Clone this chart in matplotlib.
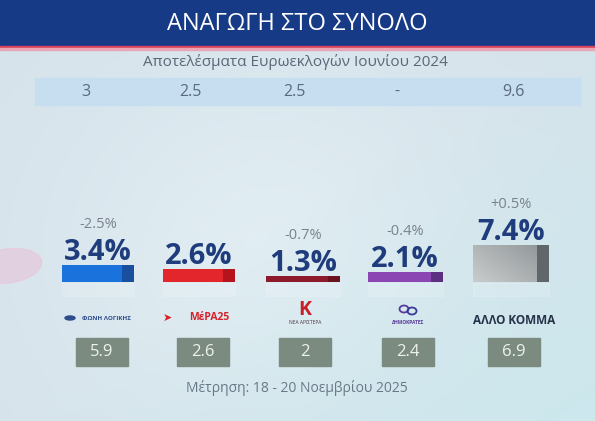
import numpy as np
import matplotlib.pyplot as plt
from matplotlib.patches import Rectangle, Ellipse
from matplotlib.colors import LinearSegmentedColormap

plt.rcParams['font.family'] = ['Open Sans', 'DejaVu Sans']

# data
parties = ['ΦΩΝΗ ΛΟΓΙΚΗΣ', 'ΜέΡΑ25', 'ΝΕΑ ΑΡΙΣΤΕΡΑ', 'ΔΗΜΟΚΡΑΤΕΣ', 'ΑΛΛΟ ΚΟΜΜΑ']
euro2024 = ['3', '2.5', '2.5', '-', '9.6']
current = [3.4, 2.6, 1.3, 2.1, 7.4]
change = ['-2.5%', '', '-0.7%', '-0.4%', '+0.5%']
previous = ['5.9', '2.6', '2', '2.4', '6.9']

title = 'ΑΝΑΓΩΓΗ ΣΤΟ ΣΥΝΟΛΟ'
subtitle = 'Αποτελέσματα Ευρωεκλογών Ιουνίου 2024'
footer = 'Μέτρηση: 18 - 20 Νοεμβρίου 2025'

bar_colors = ['#1a72dc', '#e3262c', '#8e1b2c', '#8c46b4', '#a9adb0']
cap_colors = ['#1a4f9e', '#b5141c', '#6a1220', '#5c2f80', '#5f676b']
logo_colors = ['#2c4c8c', '#d8202a', '#c81e28', '#5a3a9a', '#26324a']

W, H = 595, 421
fig = plt.figure(figsize=(W / 100, H / 100), dpi=100)
ax = fig.add_axes([0, 0, 1, 1])
ax.set_xlim(0, W)
ax.set_ylim(H, 0)
ax.axis('off')

# background
yy, xx = np.mgrid[0:1:200j, 0:1:300j]
base = np.array([0.84, 0.89, 0.92])
light = np.array([0.88, 0.93, 0.95])
cyan = np.array([0.80, 0.91, 0.93])
d = np.exp(-((xx - 0.45) ** 2 / 0.12 + (yy - 0.6) ** 2 / 0.2))
c = np.clip((xx + yy - 1.0), 0, 1)[..., None]
img = base * (1 - d[..., None]) + light * d[..., None]
img = img * (1 - c) + cyan * c
ax.imshow(img, extent=[0, W, H, 0], aspect='auto', zorder=0)

# pink blob on the left
ax.add_patch(Ellipse((8, 266), 68, 34, angle=-8, color='#e6c8dc', alpha=0.7, zorder=1))

# header band
ax.add_patch(Rectangle((0, 0), W, 46, color='#173a86', zorder=2))
ax.add_patch(Rectangle((0, 46), W, 2, color='#d8415a', zorder=2))
ax.add_patch(Rectangle((0, 48), W, 1.5, color='#e9a6b6', zorder=2))
ax.text(297, 24, title, color='white', fontsize=17, ha='center', va='center', zorder=3)

ax.text(295, 62, subtitle, color='#5b6678', fontsize=11, ha='center', va='center', zorder=3)
ax.add_patch(Rectangle((35, 78), 545, 27, color='#c6def0', zorder=2))
band_x = [86, 190, 294, 397, 513]
for x, v in zip(band_x, euro2024):
    ax.text(x, 92, v, color='#5a6a80', fontsize=11.5, ha='center', va='center', zorder=3)

# bars
centers = [98, 199, 303, 405, 511]
widths = [72, 72, 74, 75, 76]
ax2 = fig.add_axes([0, (H - 282) / H, 1, 150 / H])
ax2.set_xlim(0, W)
ax2.set_ylim(0, 30)
ax2.axis('off')
ax2.patch.set_alpha(0)

bars = ax2.bar(centers, current, width=widths, color=bar_colors, zorder=2)
cap_w = [w * 0.16 for w in widths]
ax2.bar([c + w / 2 - cw / 2 for c, w, cw in zip(centers, widths, cap_w)], current,
        width=cap_w, color=cap_colors, zorder=3)

# gradient on grey bar
gy, gx = np.mgrid[0:1:50j, 0:1:100j]
grad = 0.6 * gx + 0.4 * (1 - gy)
greys = LinearSegmentedColormap.from_list('g', ['#c9cccd', '#8e9496'])
gb = bars[4]
im = ax2.imshow(grad, extent=[gb.get_x(), gb.get_x() + gb.get_width(), 0, current[4]],
                cmap=greys, aspect='auto', zorder=2, origin='upper')
im.set_clip_path(gb)
gb.set_alpha(0)
ax2.set_xlim(0, W)
ax2.set_ylim(0, 30)

for x, v, ch in zip(centers, current, change):
    ax2.text(x, v + 0.9, f'{v:.1f}%', color='#1f3c7c', fontsize=21, fontweight='bold',
             ha='center', va='baseline', zorder=4)
    if ch:
        ax2.text(x, v + 7.3, ch, color='#7a828c', fontsize=10.5, ha='center',
                 va='baseline', zorder=4)

# faint reflections under bars
for x, w in zip(centers, widths):
    ax.add_patch(Rectangle((x - w / 2, 283), w, 13, color='white', alpha=0.15, zorder=1))

# party "logos"
box_x = [102, 203, 305, 408, 514]
ax.add_patch(Ellipse((box_x[0] - 32, 318), 10, 4, color=logo_colors[0], zorder=3))
ax.text(box_x[0] + 4, 318, parties[0], color=logo_colors[0], fontsize=4.5, fontweight='bold',
        ha='center', va='center', zorder=3)
ax.text(box_x[1] + 6, 318, parties[1], color=logo_colors[1], fontsize=7.5, fontweight='bold',
        ha='center', va='center', zorder=3)
ax.text(box_x[1] - 36, 318, '➤', color=logo_colors[1], fontsize=8, ha='center', va='center',
        family=['DejaVu Sans'], zorder=3)
ax.text(box_x[2], 310, 'K', color=logo_colors[2], fontsize=14, fontweight='bold',
        ha='center', va='center', zorder=3)
ax.text(box_x[2], 322, parties[2], color='#503040', fontsize=3.5, ha='center', va='center', zorder=3)
ax.add_patch(Ellipse((box_x[3] - 4, 309), 9, 7, fill=False, ec=logo_colors[3], lw=1.3, zorder=3))
ax.add_patch(Ellipse((box_x[3] + 4, 311), 9, 7, fill=False, ec='#3a3a9a', lw=1.3, zorder=3))
ax.text(box_x[3], 322, parties[3], color=logo_colors[3], fontsize=3.5, fontweight='bold',
        ha='center', va='center', zorder=3)
ax.text(box_x[4], 320, parties[4], color=logo_colors[4], fontsize=8.5, fontweight='bold',
        ha='center', va='center', zorder=3)

# previous poll boxes
for x, v in zip(box_x, previous):
    ax.add_patch(Rectangle((x - 26, 338), 52, 28, color='#7b8b7f', zorder=2))
    ax.text(x, 352, v, color='#eef2ee', fontsize=12, ha='center', va='center', zorder=3)

ax.text(297, 388, footer, color='#6a7888', fontsize=10, ha='center', va='center', zorder=3)

fig.savefig('out.png', dpi=100)
